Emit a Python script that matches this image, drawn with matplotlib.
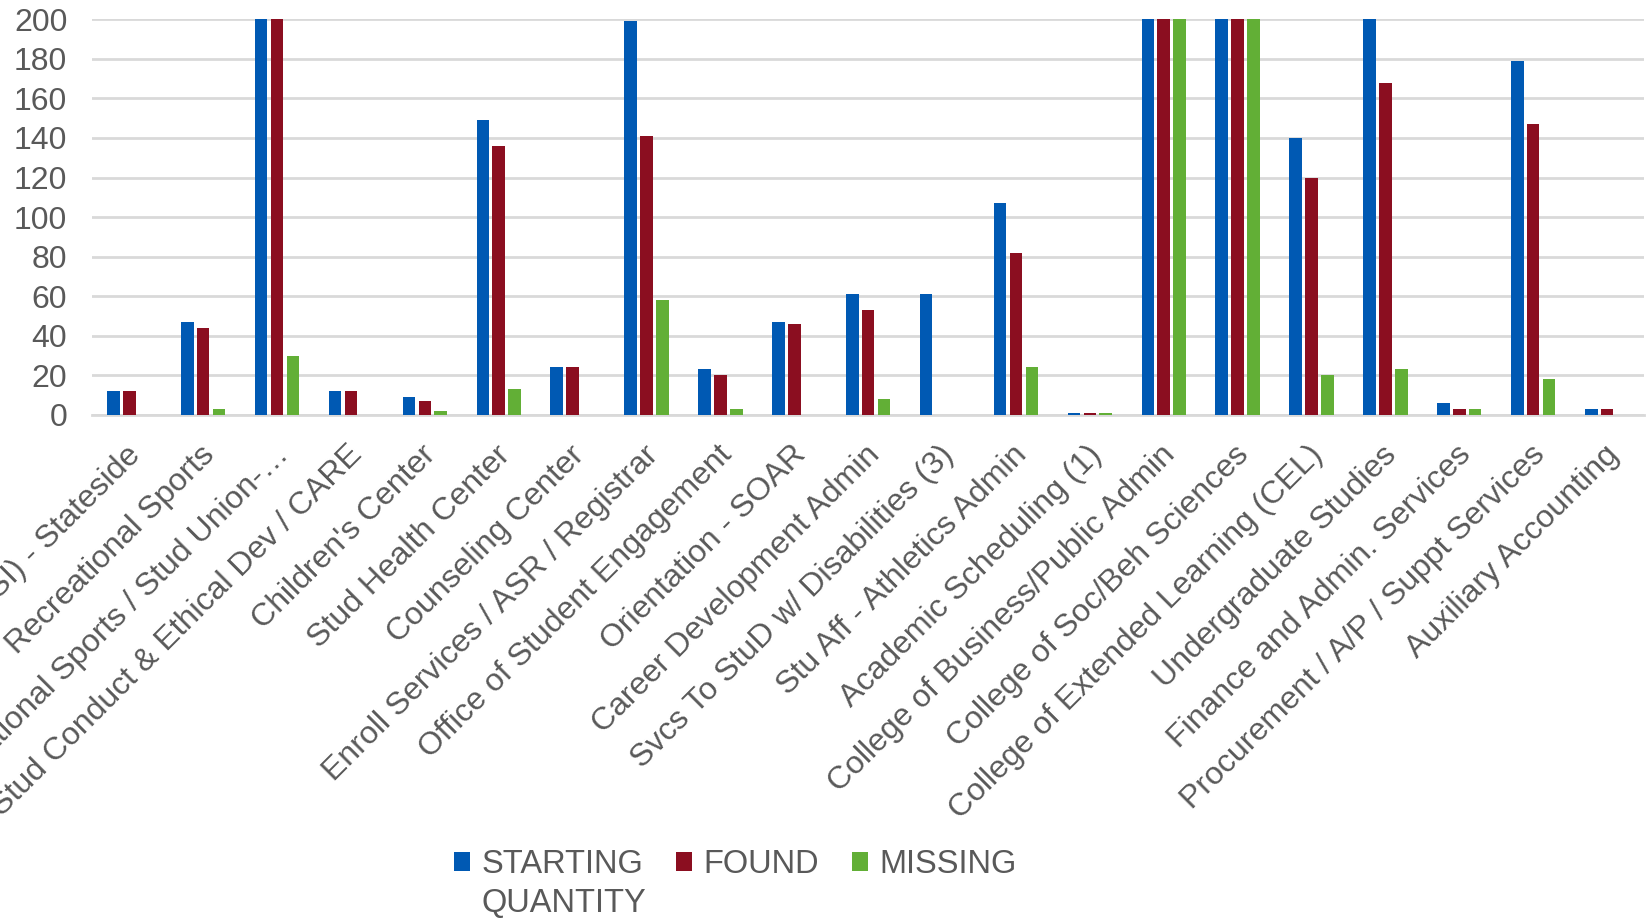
import matplotlib.pyplot as plt
import numpy as np

categories = ["International Programs (ISI) - Stateside", "Recreational Sports",
              "Recreational Sports / Stud Union-…", "Stud Conduct & Ethical Dev / CARE",
              "Children's Center", "Stud Health Center", "Counseling Center",
              "Enroll Services / ASR / Registrar", "Office of Student Engagement",
              "Orientation - SOAR", "Career Development Admin",
              "Svcs To StuD w/ Disabilities (3)", "Stu Aff - Athletics Admin",
              "Academic Scheduling (1)", "College of Business/Public Admin",
              "College of Soc/Beh Sciences", "College of Extended Learning (CEL)",
              "Undergraduate Studies", "Finance and Admin. Services",
              "Procurement / A/P / Suppt Services", "Auxiliary Accounting"]
starting = [12, 47, 320, 12, 9, 149, 24, 199, 23, 47, 61, 61, 107, 1, 410, 380, 140, 230, 6, 179, 3]
found = [12, 44, 290, 12, 7, 136, 24, 141, 20, 46, 53, 0, 82, 1, 360, 340, 120, 168, 3, 147, 3]
missing = [0, 3, 30, 0, 2, 13, 0, 58, 3, 0, 8, 0, 24, 1, 250, 230, 20, 23, 3, 18, 0]
series_names = ["STARTING", "FOUND", "MISSING"]
colors = ["#0059B3", "#8B0E20", "#62AF36"]

plt.rcParams['font.family'] = ['Liberation Sans', 'DejaVu Sans']
fig = plt.figure(figsize=(16.49, 9.18), dpi=100)
ax = fig.add_axes([0.056, 0.548, 0.941, 0.431])

x = np.arange(len(categories))
w = 0.17
off = 0.215
for i, vals in enumerate([starting, found, missing]):
    ax.bar(x + (i - 1) * off, vals, w, color=colors[i], label=series_names[i], zorder=3)

ax.set_ylim(0, 200)
ax.set_xlim(-0.5, len(categories) - 0.5)
ax.set_yticks(range(0, 201, 20))
ax.yaxis.grid(True, color="#D9D9D9", linewidth=2, zorder=0)
for s in ["top", "right", "left"]:
    ax.spines[s].set_visible(False)
ax.spines["bottom"].set_color("#D9D9D9")
ax.spines["bottom"].set_linewidth(2)
ax.tick_params(axis="both", length=0, labelsize=23, colors="#595959")
ax.tick_params(axis="y", pad=18)
ax.set_xticks(x - 0.05)
ax.set_xticklabels(categories, rotation=45, ha="right", rotation_mode="anchor")
ax.tick_params(axis="x", pad=18)

leg = fig.legend(loc="center", bbox_to_anchor=(0.446, 0.058), ncol=3, frameon=False,
                 fontsize=23.5, handlelength=0.5, handleheight=0.5, handletextpad=0.35,
                 columnspacing=1.0, labelcolor="#595959")
fig.canvas.draw()
bb = leg.get_texts()[0].get_window_extent()
inv = fig.transFigure.inverted()
x0, y0 = inv.transform((bb.x0, bb.y0))
fig.text(x0, y0 - 0.008, "QUANTITY", fontsize=23.5, color="#595959", va="top", ha="left")

fig.savefig("out.png", dpi=100)
